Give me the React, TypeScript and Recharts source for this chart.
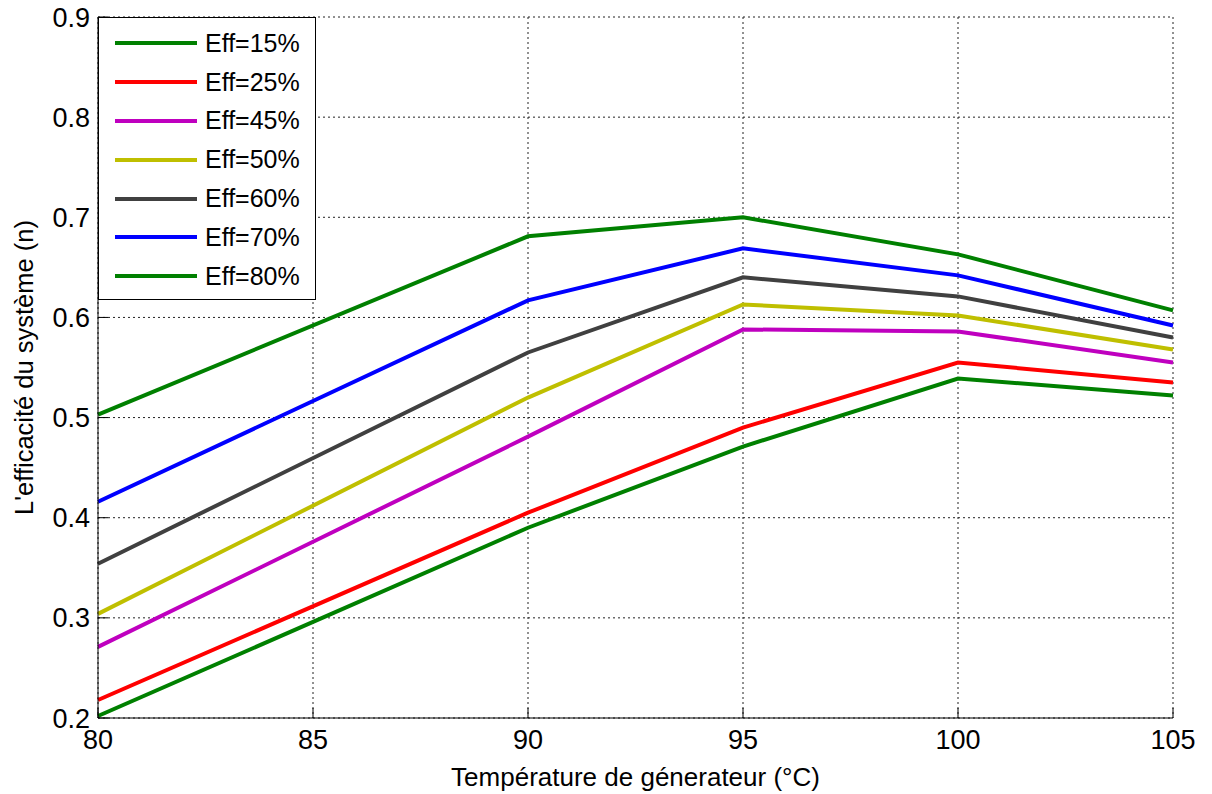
import { CartesianGrid, Line, LineChart, XAxis, YAxis } from "recharts"

const temps = [80, 90, 95, 100, 105]
const eff15 = [0.202, 0.39, 0.471, 0.539, 0.522]
const eff25 = [0.218, 0.405, 0.49, 0.555, 0.535]
const eff45 = [0.271, 0.481, 0.588, 0.586, 0.555]
const eff50 = [0.304, 0.52, 0.613, 0.602, 0.568]
const eff60 = [0.354, 0.565, 0.64, 0.621, 0.58]
const eff70 = [0.416, 0.617, 0.669, 0.642, 0.592]
const eff80 = [0.503, 0.681, 0.7, 0.663, 0.607]
const xTicks = [80, 85, 90, 95, 100, 105]
const yTicks = [0.2, 0.3, 0.4, 0.5, 0.6, 0.7, 0.8, 0.9]

const series = [
  { key: "e15", name: "Eff=15%", color: "#008000", values: eff15 },
  { key: "e25", name: "Eff=25%", color: "#ff0000", values: eff25 },
  { key: "e45", name: "Eff=45%", color: "#bf00bf", values: eff45 },
  { key: "e50", name: "Eff=50%", color: "#bfbf00", values: eff50 },
  { key: "e60", name: "Eff=60%", color: "#404040", values: eff60 },
  { key: "e70", name: "Eff=70%", color: "#0000ff", values: eff70 },
  { key: "e80", name: "Eff=80%", color: "#008000", values: eff80 },
]

const data = temps.map((t, i) => {
  const row: any = { t }
  series.forEach((s) => (row[s.key] = s.values[i]))
  return row
})

const font = "Arial, 'Liberation Sans', sans-serif"

function LegendBox() {
  return (
    <div
      style={{
        position: "absolute",
        left: 98,
        top: 17,
        width: 218,
        height: 283,
        boxSizing: "border-box",
        border: "1px solid #000",
        background: "#fff",
        paddingTop: 6,
        fontFamily: font,
      }}
    >
      {series.map((s) => (
        <div key={s.key} style={{ display: "flex", alignItems: "center", height: 38.8 }}>
          <div style={{ marginLeft: 16, width: 82, height: 4, background: s.color }} />
          <span style={{ marginLeft: 8, fontSize: 25, color: "#000" }}>{s.name}</span>
        </div>
      ))}
    </div>
  )
}

export default function App() {
  return (
    <div style={{ position: "absolute", left: 0, top: 0, width: 1212, height: 794, background: "#fff" }}>
      <LineChart width={1212} height={794} data={data} margin={{ top: 17, right: 39, left: 0, bottom: 0 }}>
        <CartesianGrid stroke="#222" strokeDasharray="2 3" />
        <XAxis
          dataKey="t"
          type="number"
          domain={[80, 105]}
          ticks={xTicks}
          height={76}
          stroke="#000"
          tickSize={-10}
          tickMargin={22}
          tick={{ fill: "#000", fontSize: 27, fontFamily: font }}
          label={{ value: "Température de génerateur (°C)", position: "insideBottom", offset: 8, fill: "#000", fontSize: 26, fontFamily: font }}
        />
        <XAxis xAxisId="top" orientation="top" type="number" domain={[80, 105]} ticks={xTicks} height={0} stroke="#000" tick={false} tickSize={-10} />
        <YAxis
          type="number"
          domain={[0.2, 0.9]}
          ticks={yTicks}
          width={98}
          stroke="#000"
          tickSize={-10}
          tickMargin={18}
          tickFormatter={(v) => v.toFixed(1)}
          tick={{ fill: "#000", fontSize: 27, fontFamily: font }}
          label={{ value: "L'efficacité du système (n)", angle: -90, position: "insideLeft", offset: 24, style: { textAnchor: "middle" }, fill: "#000", fontSize: 25.5, fontFamily: font }}
        />
        <YAxis yAxisId="right" orientation="right" type="number" domain={[0.2, 0.9]} ticks={yTicks} width={0} stroke="#000" tick={false} tickSize={-10} />
        {series.map((s) => (
          <Line
            key={s.key}
            dataKey={s.key}
            name={s.name}
            stroke={s.color}
            strokeWidth={4}
            dot={false}
            activeDot={false}
            isAnimationActive={false}
          />
        ))}
      </LineChart>
      <LegendBox />
    </div>
  )
}
